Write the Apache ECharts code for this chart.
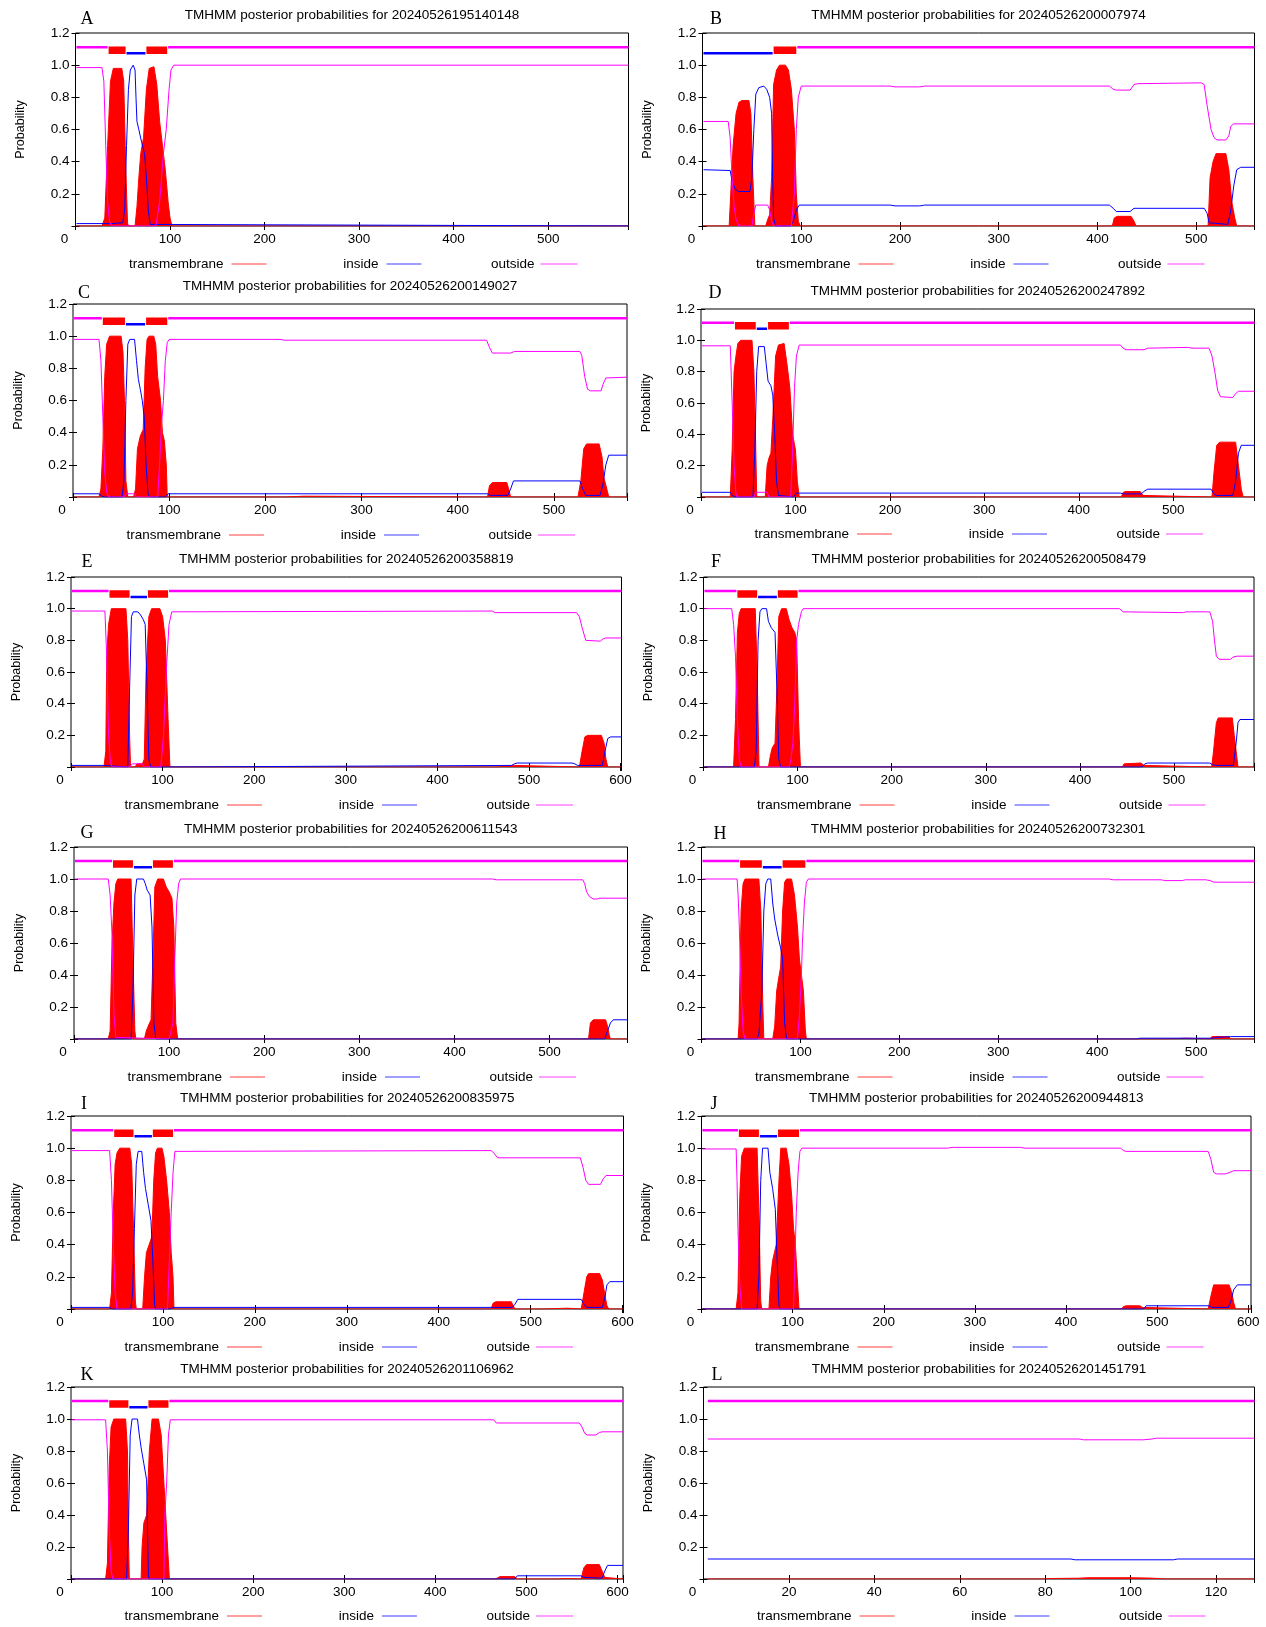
<!DOCTYPE html>
<html><head><meta charset="utf-8">
<script src="https://cdn.jsdelivr.net/npm/echarts/dist/echarts.min.js"></script>
<style>html,body{margin:0;padding:0;background:#fff}#c{width:1266px;height:1627px}</style>
</head><body><div id="c"></div><script>
// ---------- data ----------
const panelLetters = ['A','B','C','D','E','F','G','H','I','J','K','L'];
const panelIds = ['20240526195140148','20240526200007974','20240526200149027','20240526200247892',
  '20240526200358819','20240526200508479','20240526200611543','20240526200732301',
  '20240526200835975','20240526200944813','20240526201106962','20240526201451791'];
const seqLength = [585, 559, 576, 586, 601, 585, 582, 559, 601, 603, 606, 129];
const legendNames = ['transmembrane','inside','outside'];

// A
const tmA = [[1,0],[28,0],[31,0.05],[34,0.5],[37,0.9],[40,0.98],[49,0.98],[51,0.9],[53,0.4],[55,0.02],[56,0],[63,0],[65,0.12],[67,0.3],[69,0.45],[72,0.55],[75,0.85],[78,0.98],[83,0.99],[86,0.88],[89,0.65],[92,0.5],[95,0.35],[98,0.15],[100,0.05],[102,0],[585,0]];
const inA = [[1,0.015],[38,0.015],[50,0.02],[52,0.1],[54,0.5],[56,0.85],[58,0.97],[61,1.0],[63,0.97],[64,0.8],[65,0.65],[67,0.6],[70,0.52],[73,0.45],[75,0.3],[77,0.1],[79,0.01],[81,0],[585,0]];
const outA = [[1,0.985],[28,0.985],[30,0.9],[32,0.5],[34,0.15],[36,0.03],[38,0],[85,0],[89,0.15],[93,0.45],[96,0.6],[99,0.85],[101,0.97],[104,1.0],[585,1.0]];
const topoA = [[1,34,'o'],[35,53,'M'],[54,74,'i'],[75,97,'M'],[98,585,'o']];
// B
const tmB = [[1,0],[27,0],[29,0.25],[31,0.5],[34,0.7],[37,0.77],[40,0.78],[47,0.78],[49,0.7],[51,0.3],[53,0],[64,0],[66,0.04],[68,0.07],[70,0.3],[72,0.88],[75,0.97],[78,1.0],[84,1.0],[87,0.97],[90,0.85],[93,0.6],[95,0.2],[97,0.03],[99,0],[415,0],[417,0.05],[420,0.06],[434,0.06],[437,0.03],[439,0],[512,0],[514,0.3],[517,0.4],[520,0.45],[530,0.45],[533,0.35],[536,0.15],[539,0.05],[541,0],[559,0]];
const inB = [[1,0.35],[28,0.345],[30,0.28],[33,0.23],[36,0.215],[48,0.215],[50,0.3],[52,0.6],[54,0.82],[57,0.86],[62,0.87],[65,0.85],[68,0.8],[70,0.7],[71,0.3],[72,0.05],[74,0],[89,0],[92,0.03],[95,0.1],[98,0.13],[190,0.13],[195,0.125],[220,0.125],[225,0.13],[412,0.13],[416,0.11],[419,0.09],[433,0.09],[437,0.11],[508,0.11],[511,0.08],[513,0.02],[515,0.01],[532,0.01],[535,0.1],[538,0.25],[541,0.35],[545,0.365],[559,0.365]];
const outB = [[1,0.65],[26,0.65],[28,0.55],[30,0.3],[32,0.12],[34,0.04],[37,0],[50,0],[52,0.08],[54,0.13],[66,0.13],[68,0.1],[70,0.03],[72,0],[90,0],[93,0.2],[95,0.6],[97,0.8],[100,0.87],[190,0.87],[195,0.865],[220,0.865],[225,0.87],[412,0.87],[416,0.85],[419,0.845],[433,0.845],[437,0.88],[441,0.885],[505,0.89],[508,0.88],[511,0.75],[515,0.6],[518,0.55],[521,0.535],[530,0.535],[533,0.56],[535,0.62],[538,0.635],[559,0.635]];
const topoB = [[1,71,'i'],[72,95,'M'],[96,559,'o']];
// C
const tmC = [[1,0],[27,0],[29,0.05],[31,0.3],[33,0.75],[35,0.95],[38,1.0],[50,1.0],[52,0.9],[54,0.5],[55,0.1],[57,0],[63,0],[65,0.05],[67,0.3],[70,0.38],[73,0.42],[75,0.8],[77,0.98],[79,1.0],[84,1.0],[86,0.95],[88,0.75],[91,0.6],[93,0.4],[95,0.35],[97,0.2],[98,0],[220,0],[221,0.005],[240,0.005],[241,0],[431,0],[433,0.07],[436,0.09],[451,0.09],[453,0.05],[455,0],[525,0],[528,0.1],[531,0.3],[534,0.33],[547,0.33],[550,0.25],[552,0.12],[555,0.05],[557,0],[576,0]];
const inC = [[1,0.02],[27,0.02],[30,0.005],[33,0],[51,0],[53,0.1],[55,0.6],[57,0.95],[59,0.98],[64,0.98],[66,0.85],[68,0.73],[70,0.67],[72,0.6],[74,0.5],[76,0.2],[78,0.02],[80,0],[96,0],[99,0.02],[431,0.02],[434,0.01],[452,0.01],[455,0.05],[458,0.1],[527,0.1],[530,0.05],[533,0.01],[548,0.01],[551,0.08],[554,0.2],[557,0.26],[576,0.26]];
const outC = [[1,0.98],[27,0.98],[29,0.85],[31,0.5],[33,0.15],[35,0.03],[37,0],[53,0],[55,0.02],[64,0.02],[66,0],[88,0],[90,0.2],[92,0.45],[94,0.6],[96,0.85],[98,0.96],[100,0.98],[215,0.98],[220,0.975],[430,0.975],[433,0.93],[436,0.895],[455,0.895],[459,0.905],[527,0.905],[529,0.88],[532,0.75],[535,0.67],[538,0.66],[549,0.66],[551,0.7],[554,0.74],[576,0.745]];
const topoC = [[1,30,'o'],[31,54,'M'],[55,75,'i'],[76,98,'M'],[99,576,'o']];
// D
const tmD = [[1,0],[31,0],[33,0.3],[35,0.8],[37,0.9],[39,0.98],[42,1.0],[54,1.0],[56,0.8],[58,0.3],[59,0],[68,0],[70,0.2],[72,0.25],[74,0.28],[76,0.5],[79,0.9],[82,0.97],[88,0.98],[91,0.85],[94,0.7],[97,0.4],[100,0.3],[102,0.1],[104,0],[445,0],[447,0.03],[450,0.035],[465,0.035],[468,0.01],[470,0],[541,0],[543,0.15],[546,0.33],[549,0.35],[566,0.35],[569,0.2],[572,0.05],[574,0],[586,0]];
const inD = [[1,0.03],[31,0.03],[33,0.01],[36,0],[55,0],[57,0.3],[59,0.8],[61,0.96],[67,0.96],[69,0.85],[71,0.74],[74,0.71],[76,0.65],[78,0.4],[80,0.1],[82,0.01],[84,0],[98,0],[101,0.025],[444,0.025],[447,0.02],[466,0.02],[470,0.04],[473,0.05],[540,0.05],[543,0.02],[546,0.01],[563,0.01],[566,0.1],[569,0.28],[572,0.33],[586,0.33]];
const outD = [[1,0.965],[31,0.965],[33,0.6],[35,0.2],[37,0.02],[38,0],[56,0],[58,0.03],[70,0.03],[72,0],[95,0],[97,0.3],[99,0.7],[101,0.9],[104,0.97],[444,0.97],[447,0.95],[450,0.94],[469,0.94],[473,0.95],[515,0.955],[520,0.95],[538,0.95],[541,0.9],[544,0.8],[547,0.68],[550,0.64],[563,0.635],[566,0.66],[569,0.675],[586,0.675]];
const topoD = [[1,35,'o'],[36,58,'M'],[59,70,'i'],[71,93,'M'],[94,586,'o']];
// E
const tmE = [[1,0],[36,0],[38,0.1],[39,0.7],[41,0.9],[44,1.0],[60,1.0],[62,0.8],[64,0.2],[65,0],[70,0],[72,0.02],[78,0.02],[80,0.05],[82,0.6],[85,0.95],[88,1.0],[97,1.0],[100,0.95],[103,0.8],[106,0.3],[108,0],[465,0],[466,0.01],[484,0.01],[485,0],[555,0],[558,0.1],[561,0.19],[564,0.2],[579,0.2],[582,0.15],[584,0.05],[586,0],[601,0]];
const inE = [[1,0.01],[36,0.01],[38,0],[62,0],[64,0.5],[66,0.95],[68,0.98],[73,0.98],[76,0.96],[79,0.93],[81,0.9],[83,0.5],[85,0.05],[87,0],[105,0],[107,0.01],[481,0.01],[484,0.02],[487,0.025],[547,0.025],[550,0.02],[553,0.01],[580,0.01],[583,0.1],[586,0.18],[589,0.19],[601,0.19]];
const outE = [[1,0.985],[37,0.985],[39,0.7],[41,0.2],[43,0.03],[45,0],[64,0],[67,0.02],[78,0.02],[80,0],[98,0],[101,0.2],[104,0.6],[107,0.9],[110,0.98],[460,0.985],[463,0.975],[552,0.975],[555,0.95],[558,0.88],[562,0.8],[578,0.795],[581,0.81],[584,0.815],[601,0.815]];
const topoE = [[1,41,'o'],[42,64,'M'],[65,83,'i'],[84,106,'M'],[107,601,'o']];
// F
const tmF = [[1,0],[32,0],[34,0.3],[36,0.85],[38,0.97],[40,1.0],[55,1.0],[57,0.6],[59,0],[69,0],[71,0.07],[73,0.12],[76,0.15],[78,0.5],[80,0.95],[83,1.0],[88,1.0],[91,0.93],[94,0.88],[97,0.85],[99,0.8],[101,0.3],[103,0],[445,0],[447,0.02],[449,0.025],[465,0.025],[468,0.01],[470,0],[540,0],[542,0.1],[545,0.28],[547,0.31],[562,0.31],[564,0.2],[566,0.1],[568,0],[585,0]];
const inF = [[1,0],[54,0],[56,0.1],[58,0.8],[60,0.98],[62,1.0],[67,1.0],[69,0.92],[72,0.88],[76,0.85],[78,0.5],[80,0.05],[82,0],[466,0],[469,0.02],[472,0.025],[538,0.025],[541,0.015],[544,0.01],[563,0.01],[566,0.15],[568,0.28],[570,0.3],[585,0.3]];
const outF = [[1,1.0],[30,1.0],[32,0.9],[34,0.7],[36,0.3],[38,0.05],[40,0],[91,0],[93,0.05],[95,0.15],[97,0.4],[99,0.8],[101,0.9],[104,0.98],[106,1.0],[442,1.0],[446,0.98],[448,0.975],[510,0.975],[513,0.98],[538,0.98],[541,0.92],[543,0.8],[545,0.7],[548,0.68],[560,0.68],[563,0.695],[567,0.7],[585,0.7]];
const topoF = [[1,35,'o'],[36,57,'M'],[58,78,'i'],[79,100,'M'],[101,585,'o']];
// G
const tmG = [[1,0],[36,0],[38,0.05],[40,0.6],[42,0.85],[44,0.97],[46,1.0],[60,1.0],[62,0.5],[64,0.05],[65,0],[74,0],[76,0.05],[78,0.08],[81,0.12],[83,0.5],[85,0.95],[88,1.0],[94,1.0],[97,0.95],[100,0.92],[103,0.88],[105,0.7],[107,0.1],[109,0],[541,0],[543,0.1],[546,0.12],[559,0.12],[561,0.08],[563,0.02],[564,0],[582,0]];
const inG = [[1,0],[60,0],[62,0.3],[64,0.9],[66,1.0],[73,1.0],[75,0.97],[77,0.93],[80,0.9],[82,0.7],[84,0.1],[86,0],[558,0],[561,0.05],[564,0.1],[567,0.12],[582,0.12]];
const outG = [[1,1.0],[36,1.0],[38,0.9],[40,0.65],[42,0.15],[44,0.01],[46,0],[100,0],[102,0.05],[104,0.1],[106,0.5],[108,0.85],[110,0.97],[112,1.0],[440,1.0],[444,0.995],[535,0.995],[537,0.97],[539,0.92],[542,0.89],[546,0.875],[550,0.875],[553,0.88],[582,0.88]];
const topoG = [[1,40,'o'],[41,62,'M'],[63,82,'i'],[83,104,'M'],[105,582,'o']];
// H
const tmH = [[1,0],[37,0],[38,0.1],[40,0.8],[42,0.97],[44,1.0],[58,1.0],[60,0.8],[62,0.2],[63,0],[72,0],[74,0.08],[76,0.3],[78,0.38],[80,0.45],[82,0.8],[84,0.98],[86,1.0],[91,1.0],[94,0.9],[97,0.7],[99,0.5],[101,0.4],[103,0.3],[105,0.05],[106,0],[470,0],[471,0.005],[490,0.005],[491,0],[514,0],[516,0.015],[533,0.015],[535,0],[559,0]];
const inH = [[1,0],[56,0],[58,0.03],[61,0.3],[63,0.8],[65,0.97],[67,1.0],[70,1.0],[72,0.85],[74,0.75],[77,0.65],[80,0.57],[82,0.5],[84,0.1],[86,0],[440,0],[443,0.005],[517,0.005],[520,0.01],[535,0.015],[559,0.015]];
const outH = [[1,1.0],[36,1.0],[37,0.9],[38,0.75],[40,0.3],[42,0.05],[44,0],[97,0],[99,0.15],[101,0.4],[102,0.6],[104,0.85],[106,0.98],[108,1.0],[412,1.0],[416,0.995],[465,0.995],[468,0.99],[486,0.99],[489,0.995],[510,0.995],[514,0.99],[518,0.98],[559,0.98]];
const topoH = [[1,38,'o'],[39,61,'M'],[62,81,'i'],[82,105,'M'],[106,559,'o']];
// I
const tmI = [[1,0],[42,0],[44,0.1],[46,0.6],[48,0.9],[50,0.97],[53,1.0],[64,1.0],[66,0.9],[68,0.5],[70,0.05],[71,0],[78,0],[80,0.2],[82,0.35],[85,0.4],[88,0.45],[90,0.8],[92,0.97],[94,1.0],[99,1.0],[101,0.95],[104,0.8],[107,0.6],[109,0.35],[111,0.2],[112,0],[457,0],[459,0.035],[462,0.045],[479,0.045],[481,0.02],[483,0],[515,0],[516,0.005],[540,0.005],[541,0],[555,0],[558,0.1],[561,0.2],[563,0.22],[575,0.22],[578,0.18],[581,0.08],[583,0.02],[585,0],[601,0]];
const inI = [[1,0.01],[42,0.01],[45,0],[65,0],[67,0.1],[69,0.5],[71,0.9],[73,0.98],[77,0.98],[79,0.85],[81,0.75],[84,0.65],[87,0.55],[89,0.3],[91,0.02],[92,0],[108,0],[111,0.01],[480,0.01],[483,0.03],[486,0.06],[555,0.06],[558,0.03],[561,0.01],[578,0.01],[581,0.08],[583,0.15],[586,0.17],[601,0.17]];
const outI = [[1,0.985],[42,0.985],[44,0.8],[46,0.4],[48,0.1],[50,0],[105,0],[107,0.3],[109,0.6],[111,0.85],[113,0.98],[457,0.985],[460,0.97],[464,0.94],[554,0.94],[557,0.88],[560,0.8],[563,0.775],[576,0.775],[579,0.81],[582,0.83],[601,0.83]];
const topoI = [[1,46,'o'],[47,68,'M'],[69,88,'i'],[89,111,'M'],[112,601,'o']];
// J
const tmJ = [[1,0],[38,0],[40,0.1],[42,0.7],[44,0.95],[47,1.0],[61,1.0],[63,0.6],[65,0.05],[66,0],[74,0],[76,0.2],[78,0.3],[82,0.4],[85,0.8],[87,1.0],[93,1.0],[96,0.9],[99,0.7],[101,0.5],[103,0.4],[105,0.2],[107,0],[461,0],[463,0.015],[466,0.02],[481,0.02],[484,0.01],[486,0],[556,0],[559,0.08],[562,0.15],[579,0.15],[582,0.1],[584,0.04],[586,0],[603,0]];
const inJ = [[1,0],[61,0],[63,0.2],[65,0.8],[67,1.0],[73,1.0],[75,0.85],[78,0.75],[81,0.62],[83,0.3],[85,0.02],[86,0],[485,0],[488,0.02],[557,0.02],[560,0.01],[578,0.01],[581,0.05],[584,0.12],[588,0.15],[603,0.15]];
const outJ = [[1,0.995],[38,0.995],[39,0.8],[40,0.5],[42,0.15],[44,0],[101,0],[102,0.2],[104,0.6],[106,0.85],[108,0.98],[110,1.0],[270,1.0],[275,1.005],[350,1.005],[355,1.0],[460,1.0],[463,0.985],[466,0.98],[556,0.98],[559,0.93],[562,0.85],[565,0.84],[575,0.84],[580,0.85],[584,0.86],[603,0.86]];
const topoJ = [[1,40,'o'],[41,63,'M'],[64,83,'i'],[84,107,'M'],[108,603,'o']];
// K
const tmK = [[1,0],[38,0],[40,0.1],[42,0.7],[44,0.95],[47,1.0],[60,1.0],[62,0.8],[63,0.3],[64,0],[77,0],[78,0.2],[80,0.35],[83,0.4],[86,0.8],[89,1.0],[96,1.0],[99,0.9],[102,0.6],[104,0.4],[106,0.2],[108,0],[466,0],[468,0.012],[471,0.015],[487,0.015],[490,0],[533,0],[534,0.003],[544,0.003],[545,0],[560,0],[563,0.07],[566,0.09],[580,0.09],[583,0.05],[586,0.01],[587,0],[606,0]];
const inK = [[1,0],[61,0],[63,0.3],[65,0.9],[67,1.0],[73,1.0],[75,0.9],[77,0.82],[80,0.72],[83,0.62],[84,0.3],[85,0.02],[86,0],[487,0],[490,0.02],[560,0.02],[563,0.01],[583,0.005],[586,0.05],[589,0.085],[606,0.085]];
const outK = [[1,0.995],[38,0.995],[40,0.8],[42,0.3],[44,0.05],[46,0],[102,0],[103,0.4],[105,0.6],[107,0.9],[109,0.995],[464,0.995],[467,0.975],[558,0.975],[561,0.95],[564,0.91],[567,0.9],[576,0.9],[580,0.915],[583,0.92],[606,0.92]];
const topoK = [[1,41,'o'],[42,63,'M'],[64,84,'i'],[85,107,'M'],[108,606,'o']];
// L
const tmL = [[1,0],[80,0],[81,0.003],[88,0.005],[90,0.008],[100,0.008],[104,0.006],[107,0.003],[108,0],[129,0]];
const inL = [[1,0.125],[86,0.125],[87,0.12],[110,0.12],[111,0.125],[129,0.125]];
const outL = [[1,0.875],[88,0.875],[89,0.87],[103,0.87],[105,0.875],[106,0.88],[129,0.88]];
const topoL = [[1,129,'o']];

const tmAll = [tmA,tmB,tmC,tmD,tmE,tmF,tmG,tmH,tmI,tmJ,tmK,tmL];
const inAll = [inA,inB,inC,inD,inE,inF,inG,inH,inI,inJ,inK,inL];
const outAll = [outA,outB,outC,outD,outE,outF,outG,outH,outI,outJ,outK,outL];
const topoAll = [topoA,topoB,topoC,topoD,topoE,topoF,topoG,topoH,topoI,topoJ,topoK,topoL];

// ---------- layout & style ----------
const layout = [
 {l:75.5, r:628.5, t:33, b:226, lg:38, lx:87, ly:19},
 {l:702.5, r:1254.5, t:33, b:226, lg:38, lx:716, ly:19},
 {l:73, r:627, t:304, b:497, lg:38, lx:84, ly:293},
 {l:701, r:1254.5, t:309, b:497, lg:37, lx:715, ly:293},
 {l:71, r:621.5, t:577, b:767, lg:38, lx:87, ly:562},
 {l:703.5, r:1254, t:577, b:767, lg:38, lx:716, ly:562},
 {l:74, r:627.5, t:847, b:1039, lg:38, lx:87, ly:833},
 {l:701.5, r:1254.5, t:847, b:1039, lg:38, lx:720, ly:834},
 {l:71, r:623.5, t:1116, b:1309, lg:38, lx:84, ly:1104},
 {l:701.5, r:1251, t:1116, b:1309, lg:38, lx:714, ly:1104},
 {l:71, r:623, t:1387, b:1579, lg:37, lx:87, ly:1375},
 {l:703.5, r:1254.5, t:1387, b:1579, lg:37, lx:717, ly:1375}
];
const RED = '#ff0000', BLUE = '#0000ff', MAG = '#ff00ff';
const segY = {o:1.112, i:1.074, M:1.093};
const segW = {o:2.5, i:2.5, M:7.5};
const segCol = {o:MAG, i:BLUE, M:RED};
const SANS = '"Liberation Sans", Arial, Helvetica, sans-serif';
const FS_TXT = 13.5, FS_TICK = 13.5;

const grid = [], xAxis = [], yAxis = [], series = [], graphic = [];
layout.forEach((g, i) => {
  const len = seqLength[i];
  const step = len > 200 ? 100 : 20;
  grid.push({left:g.l, top:g.t, width:g.r-g.l, height:g.b-g.t, show:true,
             borderColor:'#000', borderWidth:1, backgroundColor:'#fff'});
  const tick = {show:true, inside:true, length:4, lineStyle:{color:'#000', width:1}};
  xAxis.push({gridIndex:i, type:'value', min:0, max:len, interval:step, position:'bottom',
    axisLine:{show:false}, axisTick:tick, splitLine:{show:false},
    axisLabel:{margin:6, fontSize:FS_TICK, color:'#000', fontFamily:SANS,
      formatter: v => (Math.abs(v % step) < 1e-9) ? (v === 0 ? '{z|0}' : String(v)) : '',
      rich:{z:{padding:[0,22,0,0], fontSize:FS_TICK, color:'#000', fontFamily:SANS}}}});
  xAxis.push({gridIndex:i, type:'value', min:0, max:len, interval:step, position:'top',
    axisLine:{show:false}, axisTick:tick, splitLine:{show:false}, axisLabel:{show:false}});
  yAxis.push({gridIndex:i, type:'value', min:0, max:1.2, interval:0.2, position:'left',
    name:'Probability', nameLocation:'middle', nameGap:48, nameRotate:90,
    nameTextStyle:{fontSize:12.5, color:'#000', fontFamily:SANS},
    axisLine:{show:false}, axisTick:tick, splitLine:{show:false},
    axisLabel:{margin:6, fontSize:FS_TICK, color:'#000', fontFamily:SANS,
      formatter: v => v < 0.01 ? '' : Number(v).toFixed(1)}});
  yAxis.push({gridIndex:i, type:'value', min:0, max:1.2, interval:0.2, position:'right',
    axisLine:{show:false}, axisTick:tick, splitLine:{show:false}, axisLabel:{show:false}});
  const xi = 2*i, yi = 2*i;
  const base = {type:'line', xAxisIndex:xi, yAxisIndex:yi, symbol:'none', silent:true, animation:false, clip:true};
  series.push(Object.assign({}, base, {name:legendNames[0], data:tmAll[i], z:2,
    lineStyle:{color:RED, width:1}, areaStyle:{color:RED, opacity:1}}));
  series.push(Object.assign({}, base, {name:legendNames[1], data:inAll[i], z:3,
    lineStyle:{color:BLUE, width:1}}));
  series.push(Object.assign({}, base, {name:legendNames[2], data:outAll[i], z:4,
    lineStyle:{color:MAG, width:1}}));
  topoAll[i].forEach(s => {
    series.push(Object.assign({}, base, {data:[[s[0], segY[s[2]]],[s[1], segY[s[2]]]], z:5,
      lineStyle:{color:segCol[s[2]], width:segW[s[2]], cap:'butt'}}));
  });
  // title, panel letter
  graphic.push({type:'text', x:(g.l+g.r)/2, y:g.t-18, silent:true,
    style:{text:'TMHMM posterior probabilities for ' + panelIds[i], fill:'#000',
      font:FS_TXT + 'px ' + SANS, align:'center', verticalAlign:'middle', textAlign:'center', textVerticalAlign:'middle'}});
  graphic.push({type:'text', x:g.lx, y:g.ly, silent:true,
    style:{text:panelLetters[i], fill:'#000', font:'18px "Liberation Serif", "Times New Roman", serif',
      align:'center', verticalAlign:'middle', textAlign:'center', textVerticalAlign:'middle'}});
  // legend
  const ly = g.b + g.lg;
  const items = [[legendNames[0], 148, 156, 191, RED], [legendNames[1], 303, 311, 346, BLUE], [legendNames[2], 459, 465, 502, MAG]];
  items.forEach(it => {
    graphic.push({type:'text', x:g.l+it[1], y:ly, silent:true,
      style:{text:it[0], fill:'#000', font:FS_TXT + 'px ' + SANS, align:'right', verticalAlign:'middle', textAlign:'right', textVerticalAlign:'middle'}});
    graphic.push({type:'line', silent:true, shape:{x1:g.l+it[2], y1:ly, x2:g.l+it[3], y2:ly},
      style:{stroke:it[4], lineWidth:1.2, opacity:0.75}});
  });
});

const chart = echarts.init(document.getElementById('c'), null, {renderer:'canvas'});
chart.setOption({backgroundColor:'#fff', animation:false, grid, xAxis, yAxis, series, graphic});
</script></body></html>
